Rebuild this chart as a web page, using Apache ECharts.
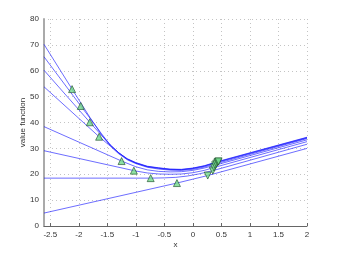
<!DOCTYPE html>
<html>
<head>
<meta charset="utf-8">
<script src="https://cdn.jsdelivr.net/npm/echarts@6/dist/echarts.min.js"></script>
<style>
html,body{margin:0;padding:0;background:#fff;}
#chart{width:339px;height:255px;}
</style>
</head>
<body>
<div id="chart"></div>
<script>
// x tick labels / y ticks
var xTicks = [-2.5, -2, -1.5, -1, -0.5, 0, 0.5, 1, 1.5, 2];
var yMin = 0, yMax = 80, yStep = 10;
var xMin = -2.61, xMax = 2;

// value function iterates
var curve1 = [[-2.61,70.2],[-2.118,52.9],[-1.8,41.8],[-1.6,35.2],[-1.45,31.2],[-1.3,28.3],[-1.15,26.0],[-1.0,24.5],[-0.8,23.1],[-0.6,22.5],[-0.4,22.0],[-0.2,21.9],[0,22.4],[0.2,23.3],[0.45,25.0],[2,34.3]];
var curve2 = [[-2.61,65.4],[-1.965,46.4],[-1.75,40.1],[-1.6,35.6],[-1.45,31.4],[-1.3,28.3],[-1.15,25.9],[-1.0,24.4],[-0.8,23.0],[-0.6,22.4],[-0.4,21.9],[-0.2,21.8],[0,22.3],[0.2,23.2],[0.44,24.8],[2,34.2]];
var curve3 = [[-2.61,60.2],[-1.807,40.1],[-1.6,35.0],[-1.45,31.3],[-1.3,28.2],[-1.15,25.8],[-1.0,24.3],[-0.8,22.9],[-0.6,22.3],[-0.4,21.8],[-0.2,21.7],[0,22.2],[0.2,23.1],[0.43,24.6],[2,34.0]];
var curve4 = [[-2.61,53.8],[-1.644,34.5],[-1.45,30.9],[-1.3,27.9],[-1.15,25.6],[-1.0,24.1],[-0.8,22.7],[-0.6,22.0],[-0.4,21.6],[-0.2,21.5],[0,21.9],[0.2,22.8],[0.41,24.1],[2,33.8]];
var curve5 = [[-2.61,38.4],[-1.25,25.1],[-1.0,22.9],[-0.8,21.7],[-0.6,21.1],[-0.4,20.9],[-0.2,21.0],[0,21.5],[0.2,22.4],[0.39,23.5],[2,33.3]];
var curve6 = [[-2.61,29.1],[-1.035,21.4],[-0.8,20.5],[-0.6,20.1],[-0.4,20.0],[-0.2,20.1],[0,20.6],[0.2,21.5],[0.37,22.6],[2,32.6]];
var curve7 = [[-2.61,18.5],[-0.74,18.5],[-0.5,18.6],[-0.3,18.8],[-0.1,19.3],[0.1,20.1],[0.35,21.4],[2,31.6]];
var curve8 = [[-2.61,5.0],[-0.28,16.6],[0.26,19.5],[2,30.0]];

// marker points
var upMarkers = [[-2.118,52.9],[-1.965,46.4],[-1.807,40.1],[-1.644,34.5],[-1.25,25.1],[-1.035,21.4],[-0.74,18.5],[-0.28,16.6]];
var downMarkers = [[0.26,19.5],[0.35,21.4],[0.37,22.6],[0.39,23.5],[0.41,24.1],[0.43,24.6],[0.44,24.8],[0.45,25.0]];

var curves = [curve8, curve7, curve6, curve5, curve4, curve3, curve2, curve1];
var lineColor = 'rgba(20,20,255,0.62)';
var series = curves.map(function (c) {
  return {
    type: 'line', data: c, showSymbol: false, symbol: 'none',
    lineStyle: { color: lineColor, width: 1 }, silent: true, animation: false, z: 2
  };
});
var markerStyle = { color: '#72d98a', borderColor: '#1e4d2a', borderWidth: 0.8 };
series.push({ type: 'scatter', data: upMarkers, symbol: 'triangle', symbolSize: 7, itemStyle: markerStyle, animation: false, z: 5 });
series.push({ type: 'scatter', data: downMarkers, symbol: 'triangle', symbolRotate: 180, symbolSize: 7, itemStyle: markerStyle, animation: false, z: 5 });

var font = 'Liberation Sans, Arial, sans-serif';
var chart = echarts.init(document.getElementById('chart'), null, { renderer: 'canvas' });
chart.setOption({
  backgroundColor: '#fff',
  animation: false,
  grid: { left: 44, right: 32, top: 19, bottom: 29, containLabel: false },
  xAxis: {
    type: 'value', min: xMin, max: xMax,
    name: 'x', nameLocation: 'middle', nameGap: 15, nameMoveOverlap: false,
    nameTextStyle: { fontSize: 8, color: '#333', fontFamily: font },
    axisLine: { show: true, onZero: false, lineStyle: { color: '#666', width: 1 } },
    axisTick: { show: true, inside: true, length: 3, customValues: xTicks, lineStyle: { color: '#666' } },
    axisLabel: { customValues: xTicks, fontSize: 8, color: '#333', fontFamily: font, margin: 5,
      formatter: function (v) { return String(v); } },
    splitLine: { show: true, lineStyle: { color: '#c4c4c4', type: [1, 3], width: 1 } }
  },
  yAxis: {
    type: 'value', min: yMin, max: yMax, interval: yStep,
    name: 'value function', nameLocation: 'middle', nameGap: 17, nameRotate: 90, nameMoveOverlap: false,
    nameTextStyle: { fontSize: 8, color: '#333', fontFamily: font },
    axisLine: { show: true, onZero: false, lineStyle: { color: '#aaa', width: 2 } },
    axisTick: { show: false },
    axisLabel: { fontSize: 8, color: '#333', fontFamily: font, margin: 5 },
    splitLine: { show: true, lineStyle: { color: '#c4c4c4', type: [1, 3], width: 1 } }
  },
  series: series
});
</script>
</body>
</html>
